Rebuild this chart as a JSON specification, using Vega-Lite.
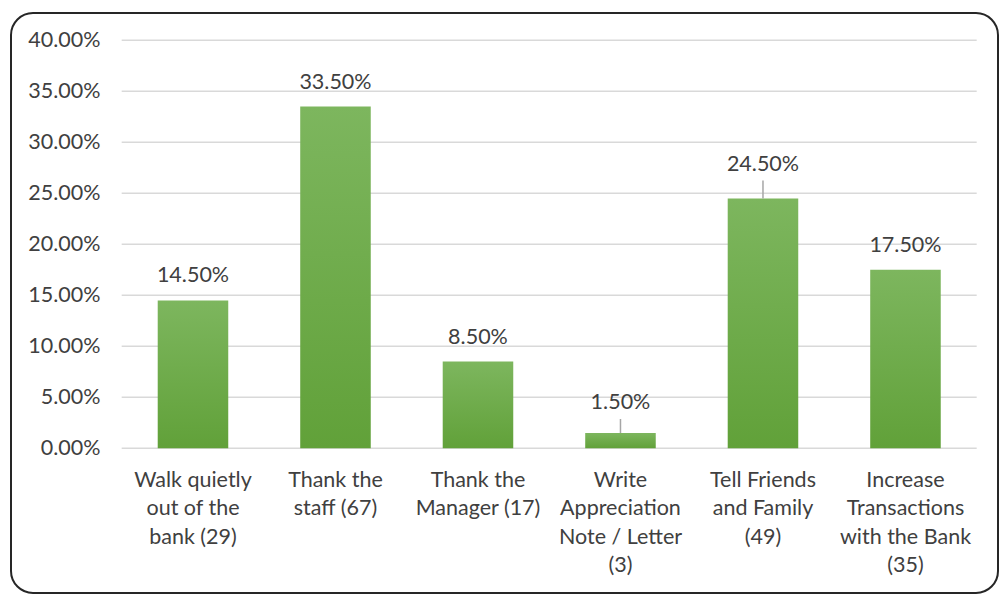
{
  "$schema": "https://vega.github.io/schema/vega-lite/v6.json",
  "width": 987,
  "height": 580,
  "autosize": {"type": "none"},
  "padding": {"left": 11, "top": 13, "right": 2, "bottom": 1},
  "background": "white",
  "config": {
    "view": {"stroke": "#262626", "strokeWidth": 2, "cornerRadius": 22},
    "font": "Lato"
  },
  "datasets": {
    "grid": [
      {"value": 0}, {"value": 0.05}, {"value": 0.1}, {"value": 0.15}, {"value": 0.2},
      {"value": 0.25}, {"value": 0.3}, {"value": 0.35}, {"value": 0.4}
    ],
    "bars": [
      {"label": "Walk quietly|out of the|bank (29)", "value": 0.145},
      {"label": "Thank the|staff (67)", "value": 0.335},
      {"label": "Thank the|Manager (17)", "value": 0.085},
      {"label": "Write|Appreciation|Note / Letter|(3)", "value": 0.015},
      {"label": "Tell Friends|and Family|(49)", "value": 0.245},
      {"label": "Increase|Transactions|with the Bank|(35)", "value": 0.175}
    ]
  },
  "layer": [
    {
      "data": {"name": "grid"},
      "mark": {"type": "rule", "color": "#D9D9D9", "strokeWidth": 1.5},
      "encoding": {
        "y": {
          "field": "value", "type": "quantitative",
          "scale": {"domain": [-0.14186, 0.42676], "nice": false, "zero": false},
          "axis": {
            "title": null, "values": [0, 0.05, 0.1, 0.15, 0.2, 0.25, 0.3, 0.35, 0.4],
            "format": ".2%", "grid": false, "domain": false, "ticks": false, "tickSize": 0,
            "labelPadding": 0, "offset": -89, "labelFont": "Lato", "labelFontSize": 21.5,
            "labelColor": "#404040"
          }
        },
        "x": {"datum": 0, "type": "quantitative", "scale": {"domain": [-0.12947, 1.02492], "nice": false, "zero": false}, "axis": null},
        "x2": {"datum": 1}
      }
    },
    {
      "data": {"name": "bars"},
      "encoding": {
        "x": {
          "field": "label", "type": "nominal", "sort": null,
          "scale": {"paddingInner": 0.505, "paddingOuter": 0.7157, "align": 0.7193, "round": false},
          "axis": {
            "title": null, "labelExpr": "split(datum.label, '|')", "labelAngle": 0,
            "labelLineHeight": 28.5, "labelBaseline": "top", "labelPadding": 21,
            "offset": -144.7, "domain": false, "ticks": false, "tickSize": 0,
            "labelFont": "Lato", "labelFontSize": 21.5, "labelColor": "#404040", "labelLimit": 200
          }
        },
        "y": {"field": "value", "type": "quantitative"}
      },
      "layer": [
        {
          "mark": {
            "type": "bar",
            "color": {
              "gradient": "linear", "x1": 0, "y1": 0, "x2": 0, "y2": 1,
              "stops": [{"offset": 0, "color": "#7DB65E"}, {"offset": 1, "color": "#61A139"}]
            }
          }
        },
        {
          "transform": [{"filter": "datum.value == 0.245 || datum.value == 0.015"}],
          "mark": {
            "type": "rule", "color": "#A6A6A6", "strokeWidth": 1.5,
            "y2Offset": {"expr": "datum.value == 0.245 ? -18 : -14"}
          },
          "encoding": {"y2": {"field": "value"}}
        },
        {
          "mark": {
            "type": "text", "font": "Lato", "fontSize": 21.5, "color": "#404040", "baseline": "middle",
            "dy": {"expr": "datum.value == 0.245 ? -33 : (datum.value == 0.015 ? -30 : -24)"}
          },
          "encoding": {"text": {"field": "value", "type": "quantitative", "format": ".2%"}}
        }
      ]
    }
  ],
  "resolve": {"scale": {"x": "independent"}}
}
